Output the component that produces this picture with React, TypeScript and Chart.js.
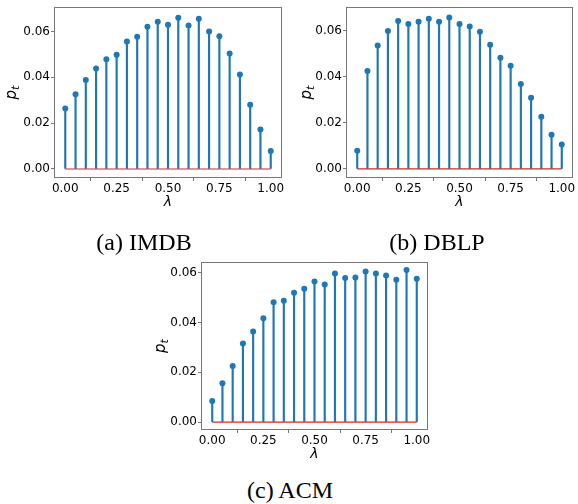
import React, { useEffect, useRef } from 'react';
import { Chart, registerables } from 'chart.js';

Chart.register(...registerables);

const LAMBDA = [0, 0.05, 0.1, 0.15, 0.2, 0.25, 0.3, 0.35, 0.4, 0.45, 0.5, 0.55, 0.6, 0.65, 0.7, 0.75, 0.8, 0.85, 0.9, 0.95, 1.0];
const IMDB = [0.0264, 0.0326, 0.0389, 0.0439, 0.0479, 0.0499, 0.0557, 0.0577, 0.0621, 0.0643, 0.0630, 0.0660, 0.0627, 0.0656, 0.0600, 0.0580, 0.0504, 0.0413, 0.0280, 0.0172, 0.0079];
const DBLP = [0.0079, 0.0426, 0.0537, 0.0600, 0.0643, 0.0630, 0.0640, 0.0653, 0.0640, 0.0659, 0.0630, 0.0619, 0.0597, 0.0540, 0.0483, 0.0449, 0.0369, 0.0310, 0.0227, 0.0149, 0.0106];
const ACM = [0.0085, 0.0156, 0.0225, 0.0316, 0.0364, 0.0417, 0.0481, 0.0487, 0.0519, 0.0536, 0.0565, 0.0553, 0.0597, 0.0579, 0.0581, 0.0605, 0.0597, 0.0589, 0.0572, 0.0611, 0.0576];
const X_TICKS = [0, 0.25, 0.5, 0.75, 1.0];
const Y_TICKS = [0, 0.02, 0.04, 0.06];
const CAPTIONS = ['(a) IMDB', '(b) DBLP', '(c) ACM'];
const X_LABEL = 'λ';
const Y_LABEL_MAIN = 'p';
const Y_LABEL_SUB = 't';

const STEM = '#1f77b4';
const BASE = '#d62728';
const FRAME = '#777777';
const TICK_FONT = { family: '"DejaVu Sans", sans-serif', size: 12 };

type PanelProps = {
  values: number[];
  left: number; top: number; width: number; height: number;
  pad: { left: number; top: number; right: number; bottom: number };
  yAxisW: number; xAxisH: number;
  ymin: number; ymax: number;
  ylx: number; xtPad: number;
};

function Panel(p: PanelProps) {
  const ref = useRef<HTMLCanvasElement>(null);
  useEffect(() => {
    const framePlugin = {
      id: 'frame',
      beforeDatasetsDraw(chart: any) {
        const { ctx, chartArea: a } = chart;
        ctx.save();
        ctx.strokeStyle = FRAME;
        ctx.lineWidth = 1;
        ctx.strokeRect(Math.round(a.left) - 0.5, Math.round(a.top) - 0.5, Math.round(a.right - a.left) + 1, Math.round(a.bottom - a.top) + 1);
        ctx.restore();
      },
    };
    const ylabPlugin = {
      id: 'ylab',
      afterDraw(chart: any) {
        const { ctx, chartArea: a } = chart;
        const cy = (a.top + a.bottom) / 2;
        ctx.save();
        ctx.translate(p.ylx, cy);
        ctx.rotate(-Math.PI / 2);
        ctx.fillStyle = '#000';
        ctx.textBaseline = 'alphabetic';
        ctx.textAlign = 'left';
        ctx.font = 'italic 15px "DejaVu Sans"';
        const wp = ctx.measureText(Y_LABEL_MAIN).width;
        ctx.font = 'italic 11px "DejaVu Sans"';
        const wt = ctx.measureText(Y_LABEL_SUB).width;
        const x0 = -(wp + wt) / 2;
        ctx.font = 'italic 15px "DejaVu Sans"';
        ctx.fillText(Y_LABEL_MAIN, x0, 3);
        ctx.font = 'italic 11px "DejaVu Sans"';
        ctx.fillText(Y_LABEL_SUB, x0 + wp, 6);
        ctx.restore();
      },
    };
    const chart = new Chart(ref.current as HTMLCanvasElement, {
      type: 'bar',
      data: {
        datasets: [
          {
            type: 'scatter',
            data: LAMBDA.map((x, i) => ({ x, y: p.values[i] })),
            pointRadius: 3,
            pointBackgroundColor: STEM,
            pointBorderWidth: 0,
            order: 1,
          } as any,
          {
            type: 'line',
            data: [{ x: LAMBDA[0], y: 0 }, { x: LAMBDA[LAMBDA.length - 1], y: 0 }],
            borderColor: BASE,
            borderWidth: 1.2,
            pointRadius: 0,
            order: 2,
          } as any,
          {
            type: 'bar',
            data: LAMBDA.map((x, i) => ({ x, y: p.values[i] })),
            backgroundColor: STEM,
            barThickness: 1.5,
            order: 3,
          } as any,
        ],
      },
      options: {
        animation: false,
        responsive: false,
        maintainAspectRatio: false,
        devicePixelRatio: 1,
        layout: { padding: p.pad },
        plugins: { legend: { display: false }, tooltip: { enabled: false } },
        scales: {
          x: {
            type: 'linear',
            min: -0.05,
            max: 1.05,
            offset: false,
            afterFit: (s: any) => { s.height = p.xAxisH; },
            afterBuildTicks: (s: any) => { s.ticks = X_TICKS.map((v) => ({ value: v })); },
            grid: { display: true, drawOnChartArea: false, drawTicks: true, tickLength: 4, color: FRAME },
            border: { display: false },
            ticks: {
              font: TICK_FONT, color: '#000', padding: 1, maxRotation: 0, autoSkip: false,
              callback: (v: any) => Number(v).toFixed(2),
            },
            title: {
              display: true, text: X_LABEL, color: '#000',
              font: { family: '"DejaVu Sans", sans-serif', size: 14, style: 'italic' },
              padding: { top: 0, bottom: p.xtPad },
            },
          },
          y: {
            type: 'linear',
            min: p.ymin,
            max: p.ymax,
            afterFit: (s: any) => { s.width = p.yAxisW; },
            afterBuildTicks: (s: any) => { s.ticks = Y_TICKS.map((v) => ({ value: v })); },
            grid: { display: true, drawOnChartArea: false, drawTicks: true, tickLength: 4, color: FRAME },
            border: { display: false },
            ticks: {
              font: TICK_FONT, color: '#000', padding: 1,
              callback: (v: any) => Number(v).toFixed(2),
            },
          },
        },
      } as any,
      plugins: [framePlugin, ylabPlugin],
    });
    return () => chart.destroy();
  }, []);
  return (
    <canvas
      ref={ref}
      width={p.width}
      height={p.height}
      style={{ position: 'absolute', left: p.left, top: p.top, width: p.width, height: p.height }}
    />
  );
}

function Caption({ text, cx, cy }: { text: string; cx: number; cy: number }) {
  return (
    <div
      style={{
        position: 'absolute', left: cx - 100, top: cy - 15, width: 200, height: 30,
        lineHeight: '30px', textAlign: 'center', color: '#000',
        fontFamily: '"Liberation Serif", "Times New Roman", serif', fontSize: 24,
      }}
    >
      {text}
    </div>
  );
}

export default function App() {
  return (
    <div style={{ position: 'fixed', left: 0, top: 0, width: 578, height: 504, background: '#fff', overflow: 'hidden' }}>
      <Panel values={IMDB} left={0} top={0} width={290} height={215}
        pad={{ left: 0, top: 8, right: 9, bottom: 0 }} yAxisW={55} xAxisH={38}
        ymin={-0.0035} ymax={0.0702} ylx={13} xtPad={4.6} />
      <Panel values={DBLP} left={290} top={0} width={288} height={215}
        pad={{ left: 0, top: 8, right: 6, bottom: 0 }} yAxisW={57} xAxisH={38}
        ymin={-0.0035} ymax={0.0699} ylx={18} xtPad={4.6} />
      <Panel values={ACM} left={150} top={250} width={290} height={215}
        pad={{ left: 0, top: 13, right: 13, bottom: 0 }} yAxisW={52} xAxisH={36}
        ymin={-0.0028} ymax={0.0639} ylx={12} xtPad={2.6} />
      <Caption text={CAPTIONS[0]} cx={144} cy={242} />
      <Caption text={CAPTIONS[1]} cx={437} cy={242} />
      <Caption text={CAPTIONS[2]} cx={290} cy={490} />
    </div>
  );
}
